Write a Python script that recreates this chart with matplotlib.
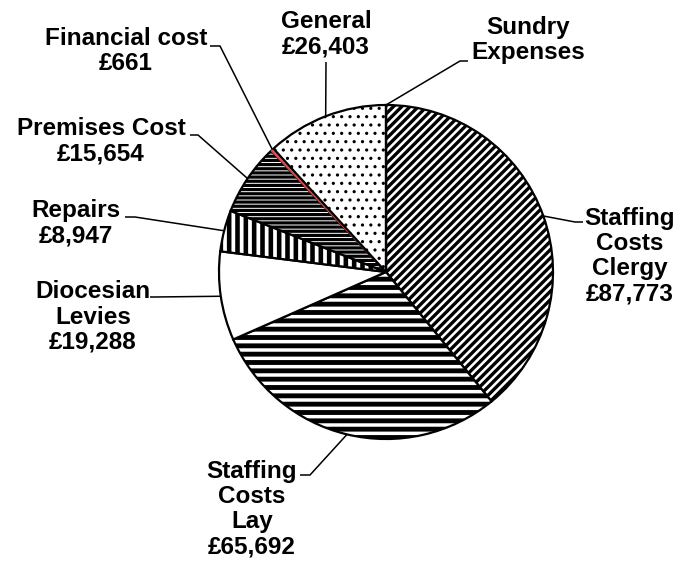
import numpy as np
import matplotlib
matplotlib.use("Agg")
import matplotlib.pyplot as plt

# --- data, clockwise from 12 o'clock ---
labels = ["Staffing\nCosts\nClergy", "Staffing\nCosts\nLay", "Diocesian\nLevies",
          "Repairs", "Premises Cost", "Financial cost", "General", "Sundry\nExpenses"]
values = [87773, 65692, 19288, 8947, 15654, 661, 26403, 0]
value_text = ["£87,773", "£65,692", "£19,288", "£8,947", "£15,654", "£661", "£26,403", ""]

hatches = ["////", "--", "", "||", "----", "", "..", ""]
hatch_lw = [2.4, 3.5, 1.0, 3.3, 2.3, 1.0, 1.1, 1.0]
faces = ["white", "white", "white", "white", "white", "#e06060", "white", "white"]

# label centre (px), and leader elbow: (x_start, x_elbow, y) horizontal piece near text
label_pos = [(630, 256), (252, 509), (93, 317), (76, 223), (101, 141), (126, 51), (326, 34), (528, 40)]
elbows = [(583, 575, 222), (300, 310, 475), (150, 155, 297), (125, 135, 217),
          (190, 198, 135), (210, 220, 46), (326, 326, 62), (468, 460, 61)]

W, H = 694, 564
cx, cy, R = 386, 272, 167

plt.rcParams['font.family'] = ['Liberation Sans', 'DejaVu Sans']

fig = plt.figure(figsize=(W / 100, H / 100), dpi=100)
ax = fig.add_axes([0, 0, 1, 1])

wedges, _ = ax.pie(values, startangle=90, counterclock=False, center=(cx, H - cy), radius=R,
                   wedgeprops=dict(edgecolor="black", linewidth=1.6))
for w, h, lw, fc in zip(wedges, hatches, hatch_lw, faces):
    w.set_facecolor(fc)
    if fc != "white":
        w.set_edgecolor("#d04848")
        w.set_linewidth(1.0)
    if h:
        w.set_hatch(h)
        if hasattr(w, "set_hatch_linewidth"):
            w.set_hatch_linewidth(lw)
        else:
            w._hatch_linewidth = lw

ax.set_xlim(0, W)
ax.set_ylim(0, H)
ax.set_aspect("equal")
ax.axis("off")

# labels and leader lines, leader meets the pie at each wedge's mid angle
for w, lab, val, (tx, ty), (xs, xe, ye) in zip(wedges, labels, value_text, label_pos, elbows):
    mid = np.deg2rad((w.theta1 + w.theta2) / 2)
    ex = cx + R * np.cos(mid)
    ey = (H - cy) + R * np.sin(mid)
    ax.plot([xs, xe, ex], [H - ye, H - ye, ey], color="black", lw=1.1, solid_capstyle="butt")
    txt = lab + ("\n" + val if val else "")
    ax.text(tx, H - ty, txt, ha="center", va="center", fontsize=17.5, fontweight="bold",
            linespacing=1.12)

fig.savefig("out.png", dpi=100)
